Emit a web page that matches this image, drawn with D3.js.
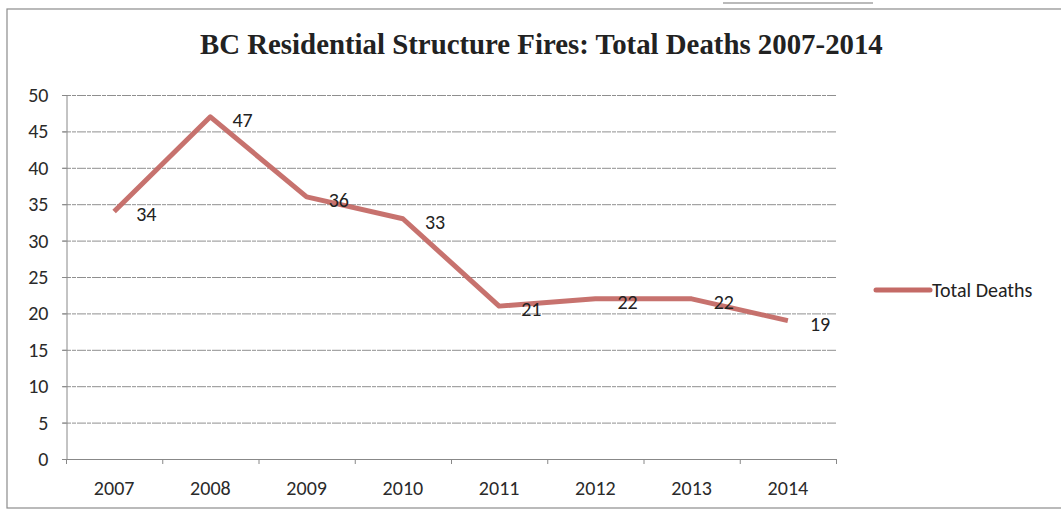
<!DOCTYPE html>
<html>
<head>
<meta charset="utf-8">
<script src="https://cdn.jsdelivr.net/npm/d3@7"></script>
<style>
  body { margin: 0; background: #fff; }
  svg { display: block; }
</style>
</head>
<body>
<script>
const years = ["2007", "2008", "2009", "2010", "2011", "2012", "2013", "2014"];
const deaths = [34, 47, 36, 33, 21, 22, 22, 19];
const yTicks = [0, 5, 10, 15, 20, 25, 30, 35, 40, 45, 50];
const title = "BC Residential Structure Fires: Total Deaths 2007-2014";
const seriesName = "Total Deaths";

const W = 1061, H = 512;
const plot = { left: 66, right: 836, top: 95, bottom: 459 };
const lineColor = "#c46a66";
const labelFont = "Carlito, Lato, 'Open Sans', sans-serif";
const fs = 20;

const svg = d3.select("body").append("svg").attr("width", W).attr("height", H);

// scanned page bits: underline of the heading cut at top, chart frame
svg.append("line")
  .attr("x1", 723).attr("x2", 873).attr("y1", 3).attr("y2", 3)
  .attr("stroke", "#777").attr("stroke-width", 1.2);

svg.append("rect")
  .attr("x", 7).attr("y", 9)
  .attr("width", 1080).attr("height", 499)
  .attr("fill", "none")
  .attr("stroke", "#8c8c8c").attr("stroke-width", 1.2);

const x = d3.scaleBand().domain(years).range([plot.left, plot.right]);
const y = d3.scaleLinear().domain([0, 50]).range([plot.bottom, plot.top]);

// title, fitted to the width it has in the picture
const t = svg.append("text")
  .attr("x", 200).attr("y", 54)
  .attr("font-family", "'Liberation Serif', 'DejaVu Serif', serif")
  .attr("font-weight", "bold").attr("font-size", 24)
  .attr("fill", "#222")
  .text(title);
const tw = t.node().getComputedTextLength();
t.attr("font-size", 24 * 683 / tw);

// gridlines
svg.append("g")
  .selectAll("line")
  .data(yTicks.filter(d => d > 0))
  .join("line")
  .attr("x1", plot.left - 4).attr("x2", plot.right)
  .attr("y1", d => y(d) + 0.5).attr("y2", d => y(d) + 0.5)
  .attr("stroke", "#8f8f8f").attr("stroke-width", 1)
  .attr("stroke-dasharray", "9,1,4,1");

// y axis
const yAxis = svg.append("g")
  .attr("transform", `translate(${plot.left + 0.5},0)`)
  .call(d3.axisLeft(y).tickValues(yTicks).tickSize(4).tickPadding(14));
yAxis.select(".domain").attr("stroke", "#888");
yAxis.selectAll(".tick line").attr("stroke", "#888");
yAxis.selectAll(".tick text")
  .attr("font-family", labelFont).attr("font-size", fs).attr("fill", "#2a2a2a");

// x axis with ticks between categories
const xAxis = svg.append("g")
  .attr("transform", `translate(0,${plot.bottom + 0.5})`)
  .call(d3.axisBottom(x).tickSize(0).tickPadding(21));
xAxis.select(".domain").attr("stroke", "#888").attr("d", `M${plot.left - 4},0H${plot.right}`);
xAxis.selectAll(".tick text")
  .attr("font-family", labelFont).attr("font-size", fs).attr("fill", "#2a2a2a");
svg.append("g")
  .selectAll("line")
  .data(years.map(d => x(d)).concat([plot.right]))
  .join("line")
  .attr("x1", d => d + 0.5).attr("x2", d => d + 0.5)
  .attr("y1", plot.bottom).attr("y2", plot.bottom + 5)
  .attr("stroke", "#888");

// series line
const pts = years.map((yr, i) => [x(yr) + x.bandwidth() / 2, y(deaths[i])]);
svg.append("path")
  .attr("d", d3.line()(pts))
  .attr("fill", "none")
  .attr("stroke", lineColor).attr("stroke-width", 5)
  .attr("stroke-linejoin", "round")
  .attr("opacity", 0.95);

// data labels to the right of each point
svg.append("g")
  .selectAll("text")
  .data(pts)
  .join("text")
  .attr("x", d => d[0] + 22)
  .attr("y", d => d[1] + 3)
  .attr("dy", "0.35em")
  .attr("font-family", labelFont).attr("font-size", fs)
  .attr("fill", "#222")
  .text((d, i) => deaths[i]);

// legend
svg.append("line")
  .attr("x1", 876).attr("x2", 930).attr("y1", 290).attr("y2", 290)
  .attr("stroke", lineColor).attr("stroke-width", 5)
  .attr("stroke-linecap", "round");
svg.append("text")
  .attr("x", 932).attr("y", 290).attr("dy", "0.35em")
  .attr("font-family", labelFont).attr("font-size", fs)
  .attr("fill", "#222")
  .text(seriesName);
</script>
</body>
</html>
